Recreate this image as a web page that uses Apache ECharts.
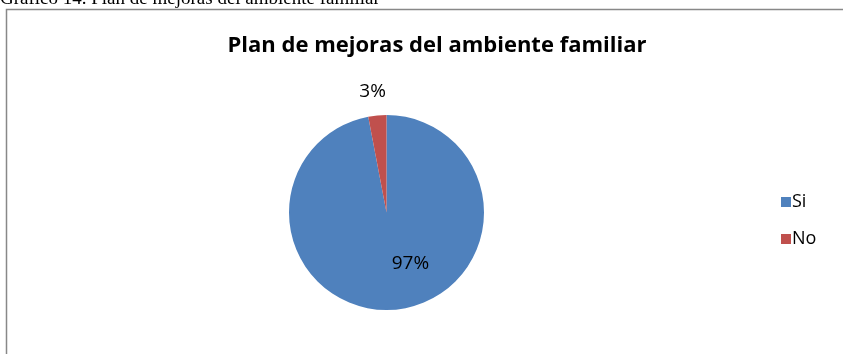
<!DOCTYPE html>
<html>
<head>
<meta charset="utf-8">
<script src="https://cdn.jsdelivr.net/npm/echarts@6/dist/echarts.min.js"></script>
<style>
html,body{margin:0;padding:0;background:#fff;}
#c{width:843px;height:354px;}
</style>
</head>
<body>
<div id="c"></div>
<script>
const categories = ['Si', 'No'];
const values = [97, 3];
const colors = ['#4F81BD', '#C0504D'];
const titleText = 'Plan de mejoras del ambiente familiar';
const captionText = 'Gráfico 14. Plan de mejoras del ambiente familiar';

const chart = echarts.init(document.getElementById('c'), null, {renderer: 'canvas'});
const labelOffsets = [[19, 0], [-9, -69]];
const data = categories.map((name, i) => ({
  name: name,
  value: values[i],
  itemStyle: {color: colors[i]},
  label: {offset: labelOffsets[i]}
}));

chart.setOption({
  animation: false,
  backgroundColor: '#fff',
  title: {
    text: titleText,
    left: 432,
    textAlign: 'center',
    top: 30,
    textStyle: {fontFamily: 'Open Sans', fontWeight: 'bold', fontSize: 22, color: '#000'}
  },
  legend: {
    orient: 'vertical',
    left: 776,
    top: 188,
    itemWidth: 10,
    itemHeight: 10,
    itemGap: 19,
    icon: 'rect',
    textStyle: {fontFamily: 'Open Sans', fontSize: 18, color: '#000', padding: [0, 0, 0, -4]},
    data: categories
  },
  graphic: [
    {type: 'rect', shape: {x: 6.5, y: 9.5, width: 900, height: 400}, style: {fill: 'none', stroke: '#888', lineWidth: 1.5}, z: -1},
    {type: 'text', left: 0, top: -10, style: {text: captionText, font: '19px "Liberation Serif"', fill: '#000'}}
  ],
  series: [{
    type: 'pie',
    center: [386.5, 212.5],
    radius: [0, 97.5],
    startAngle: 90,
    clockwise: true,
    label: {
      show: true,
      position: 'inside',
      formatter: '{d}%',
      fontFamily: 'Open Sans',
      fontSize: 19,
      color: '#000'
    },
    labelLine: {show: false},
    itemStyle: {borderWidth: 0},
    emphasis: {disabled: true},
    data: data
  }]
});
</script>
</body>
</html>
